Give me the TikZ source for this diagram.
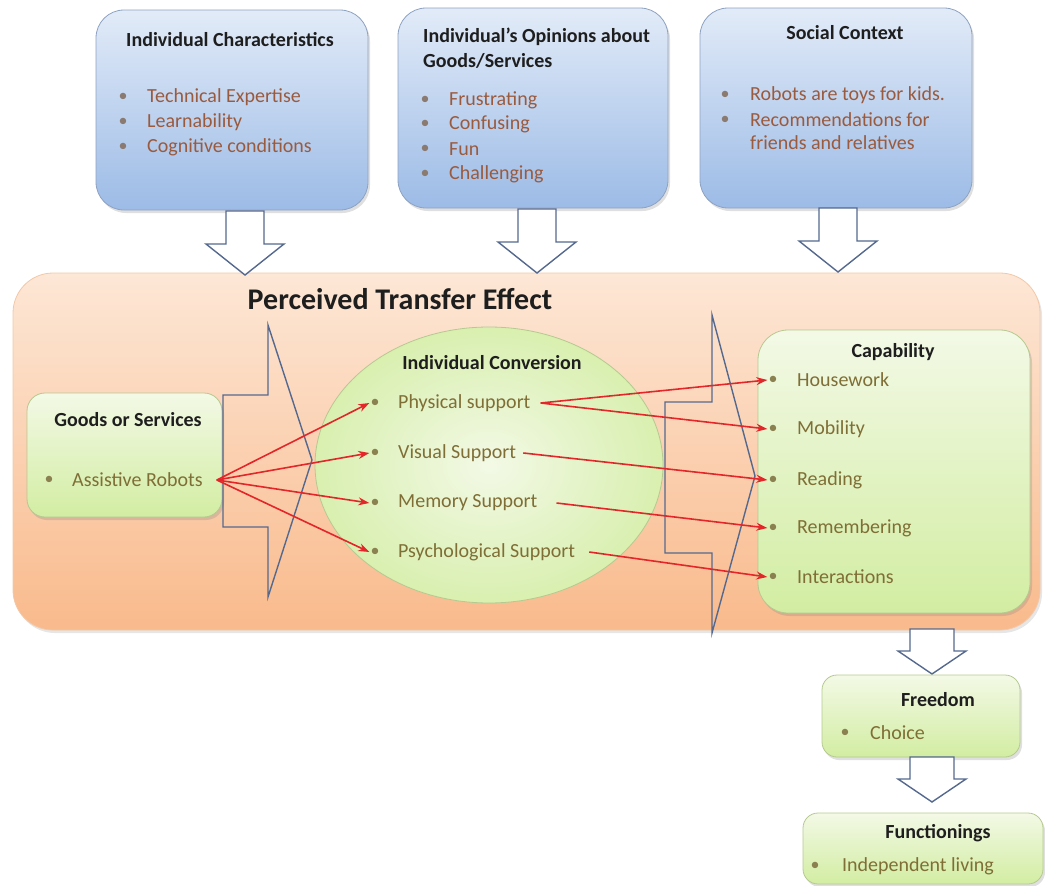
\documentclass[tikz,border=0pt]{standalone}
\usepackage{fontspec}
\setmainfont{Carlito}
\usetikzlibrary{arrows.meta,shapes.geometric,shadows}
\definecolor{titlec}{HTML}{1E1E1E}
\definecolor{itemtop}{HTML}{9A5A3E}
\definecolor{itemgrn}{HTML}{7F6E36}
\definecolor{bultop}{HTML}{8A7A70}
\definecolor{bulgrn}{HTML}{8A8050}
\definecolor{bluetop}{HTML}{E2EBF8}
\definecolor{bluebot}{HTML}{9CBBE6}
\definecolor{blueline}{HTML}{8EA2C2}
\definecolor{grntop}{HTML}{F3F9E6}
\definecolor{grnbot}{HTML}{D2EDA2}
\definecolor{grnline}{HTML}{B5C990}
\definecolor{orgtop}{HTML}{FDE7D6}
\definecolor{orgbot}{HTML}{F9BA8C}
\definecolor{orgline}{HTML}{F2C8A8}
\definecolor{arrline}{HTML}{55698F}
\definecolor{redarr}{HTML}{E3262A}
\begin{document}
\begin{tikzpicture}[x=1pt,y=-1pt,
  bluebox/.style={draw=blueline, line width=0.8pt, rounded corners=28pt, top color=bluetop, bottom color=bluebot,
    drop shadow={shadow xshift=2pt, shadow yshift=-3pt, opacity=0.25}},
  grnbox/.style={draw=grnline, line width=0.8pt, rounded corners=18pt, top color=grntop, bottom color=grnbot,
    drop shadow={shadow xshift=2pt, shadow yshift=-3pt, opacity=0.25}},
  ttl/.style={font=\bfseries\fontsize{20}{24}\selectfont, text=titlec, inner sep=0pt},
  itm/.style={font=\fontsize{20}{24}\selectfont, text=itemtop, inner xsep=5pt, inner ysep=0pt, anchor=west},
  itmg/.style={itm, text=itemgrn},
  bul/.style={font=\fontsize{18}{24}\selectfont, text=bultop, inner sep=1pt},
  bulg/.style={bul, text=bulgrn},
  blockarr/.style={draw=arrline, line width=1.4pt, line join=miter},
  hollow/.style={draw=arrline, line width=1.4pt, fill=white},
  redline/.style={draw=redarr, line width=1.6pt, -{Stealth[length=11pt,width=8pt]}},
  bigdown/.pic={\draw[hollow] (-19,0) -- (19,0) -- (19,33) -- (39,33) -- (0,64) -- (-39,33) -- (-19,33) -- cycle;},
  smalldown/.pic={\draw[hollow] (-22,0) -- (22,0) -- (22,22) -- (34,22) -- (0,45) -- (-34,22) -- (-22,22) -- cycle;}
]
\useasboundingbox (0,0) rectangle (1045,886);

% ---- top boxes ----
\node[bluebox, minimum width=272pt, minimum height=200pt] (box1) at (232,110) {};
\node[bluebox, minimum width=270pt, minimum height=200pt] (box2) at (533,108) {};
\node[bluebox, minimum width=272pt, minimum height=200pt] (box3) at (836,108) {};

\node[ttl] (t1) at (230,40) {Individual Characteristics};
\node[bul] (b11) at (123,97) {•};  \node[itm] (i11) at (142,97) {Technical Expertise};
\node[bul] (b12) at (123,122) {•}; \node[itm] (i12) at (142,122) {Learnability};
\node[bul] (b13) at (123,147) {•}; \node[itm] (i13) at (142,147) {Cognitive conditions};

\node[ttl, anchor=west] (t2a) at (423,37) {Individual’s Opinions about};
\node[ttl, anchor=west] (t2b) at (423,61) {Goods/Services};
\node[bul] (b21) at (425,100) {•}; \node[itm] (i21) at (444,100) {Frustrating};
\node[bul] (b22) at (425,124) {•}; \node[itm] (i22) at (444,124) {Confusing};
\node[bul] (b23) at (425,149) {•}; \node[itm] (i23) at (444,149) {Fun};
\node[bul] (b24) at (425,174) {•}; \node[itm] (i24) at (444,174) {Challenging};

\node[ttl] (t3) at (845,33) {Social Context};
\node[bul] (b31) at (725,95) {•};  \node[itm] (i31) at (745,95) {Robots are toys for kids.};
\node[bul] (b32) at (725,120) {•}; \node[itm] (i32) at (745,120) {Recommendations for};
\node[itm] (i33) at (745,143) {friends and relatives};

% ---- perceived transfer effect ----
\node[draw=orgline, line width=0.8pt, rounded corners=40pt, top color=orgtop, bottom color=orgbot,
  minimum width=1027pt, minimum height=357pt,
  drop shadow={shadow xshift=2pt, shadow yshift=-3pt, opacity=0.2}] (pte) at (526.5,451.5) {};
\node[font=\bfseries\fontsize{30}{36}\selectfont, text=titlec, inner sep=0pt] (ptet) at (400,299) {Perceived Transfer Effect};

\pic at (245,211) {bigdown};
\pic at (537,209) {bigdown};
\pic at (838,208) {bigdown};

% goods
\node[grnbox, minimum width=195pt, minimum height=124pt] (goods) at (124.5,455) {};
\node[ttl] (gt) at (128,420) {Goods or Services};
\node[bulg] (gb) at (49,480) {•}; \node[itmg] (gr) at (67,480) {Assistive Robots};

% conversion ellipse
\node[ellipse, draw=grnline, line width=0.8pt, inner color=grntop, outer color=grnbot!80!grntop,
  minimum width=348pt, minimum height=276pt] (conv) at (489,465) {};
\node[ttl] (ct) at (492,363) {Individual Conversion};
\node[bulg] (cb1) at (375,403) {•}; \node[itmg] (c1) at (393,403) {Physical support};
\node[bulg] (cb2) at (375,453) {•}; \node[itmg] (c2) at (393,453) {Visual Support};
\node[bulg] (cb3) at (375,503) {•}; \node[itmg] (c3) at (393,503) {Memory Support};
\node[bulg] (cb4) at (375,552) {•}; \node[itmg] (c4) at (393,552) {Psychological Support};

% capability
\node[grnbox, rounded corners=30pt, minimum width=272pt, minimum height=283pt] (cap) at (894,471.5) {};
\node[ttl] (capt) at (893,352) {Capability};
\node[bulg] (kb1) at (773,380) {•}; \node[itmg] (k1) at (792,380) {Housework};
\node[bulg] (kb2) at (773,429) {•}; \node[itmg] (k2) at (792,429) {Mobility};
\node[bulg] (kb3) at (773,480) {•}; \node[itmg] (k3) at (792,480) {Reading};
\node[bulg] (kb4) at (773,528) {•}; \node[itmg] (k4) at (792,528) {Remembering};
\node[bulg] (kb5) at (773,577) {•}; \node[itmg] (k5) at (792,577) {Interactions};

% block arrows (outline)
\draw[blockarr] (223,395) -- (268,395) -- (268,325) -- (312,460) -- (268,597) -- (268,527) -- (223,527) -- cycle;
\draw[blockarr] (665,402) -- (712,402) -- (712,315) -- (755,476) -- (712,633) -- (712,553) -- (665,553) -- cycle;

% red arrows
\coordinate (grs) at ([xshift=9pt]gr.east);
\foreach \t in {cb1,cb2,cb3,cb4} \draw[redline] (grs) -- (\t.west);
\draw[redline] ([xshift=5pt]c1.east) -- (kb1.west);
\draw[redline] ([xshift=5pt]c1.east) -- (kb2.west);
\draw[redline] ([xshift=2pt]c2.east) -- (kb3.west);
\draw[redline] ([xshift=14pt]c3.east) -- (kb4.west);
\draw[redline] ([xshift=9pt]c4.east) -- (kb5.west);

% freedom / functionings
\pic at (932,629) {smalldown};
\node[grnbox, rounded corners=15pt, minimum width=198pt, minimum height=82pt] (free) at (921,716) {};
\node[ttl] (ft) at (938,700) {Freedom};
\node[bulg] (fb) at (845,733) {•}; \node[itmg] (f1) at (865,733) {Choice};

\pic at (932,757) {smalldown};
\node[grnbox, rounded corners=15pt, minimum width=240pt, minimum height=71pt] (func) at (923,848.5) {};
\node[ttl] (fnt) at (938,833) {Functionings};
\node[bulg] (nb) at (815,866) {•}; \node[itmg] (n1) at (837,866) {Independent living};
\end{tikzpicture}
\end{document}
